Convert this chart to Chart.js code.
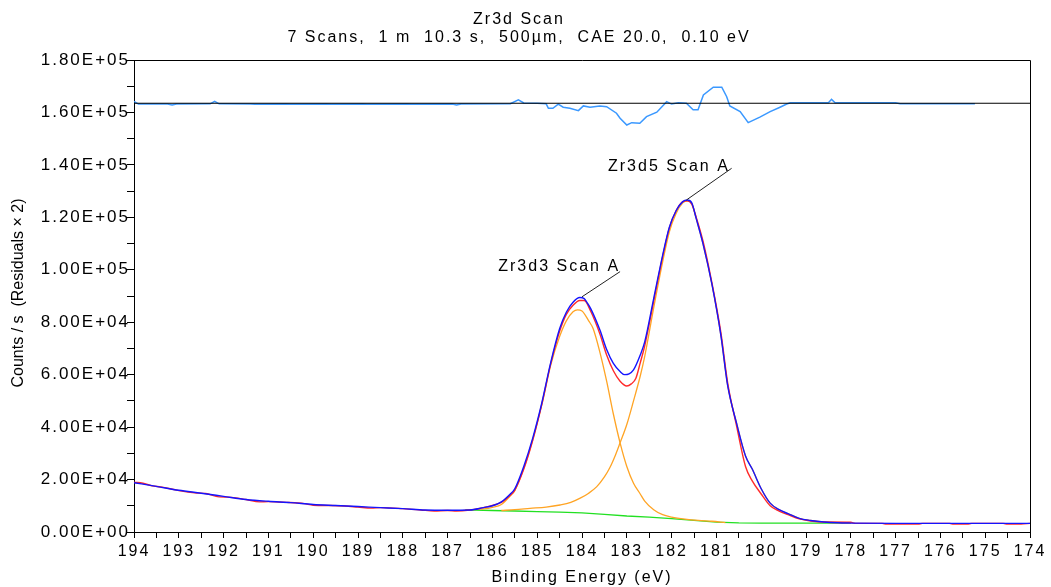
<!DOCTYPE html>
<html><head><meta charset="utf-8">
<script src="https://cdn.jsdelivr.net/npm/chart.js@4.4.0/dist/chart.umd.min.js"></script>
<style>html,body{margin:0;padding:0;background:#fff;}#wrap{width:1051px;height:587px;}</style>
</head><body><div id="wrap"><canvas id="c" width="1051" height="587"></canvas></div>
<script>
const titleLines = ['Zr3d Scan', '7 Scans,  1 m  10.3 s,  500\u00b5m,  CAE 20.0,  0.10 eV'];
const xTitle = 'Binding Energy (eV)';
const yTitle = 'Counts / s  (Residuals \u00d7 2)';

// Envelope (fit), blue
const envE = [194,193.5,193,192.5,192,191.5,191,190.5,190,189.5,189,188.5,188,187.5,187,186.5,186.2,186,185.8,185.6,185.5,185.3,185.1,184.9,184.7,184.5,184.35,184.2,184.05,183.95,183.88,183.8,183.6,183.45,183.3,183.15,183.05,182.95,182.85,182.7,182.6,182.4,182.2,182.05,181.9,181.75,181.65,181.55,181.45,181.3,181.1,180.9,180.75,180.55,180.35,180.2,180,179.8,179.6,179.4,179.15,178.9,178.6,178.3,178,177,176,175,174];
const envY = [18800,17400,15900,14800,13600,12400,11700,11200,10500,10100,9700,9300,8900,8400,8300,8400,9300,10000,11500,14500,16500,25000,35800,49000,64500,77500,83800,87600,89400,89000,87300,85000,77000,69600,64300,61200,60000,60300,61800,67500,72500,89000,105500,116200,122500,126000,126600,125500,119500,110000,94500,75000,56000,41500,29000,24000,16500,11000,8500,7000,5200,4400,3800,3500,3400,3300,3300,3300,3300];

// Raw data, red
const rawE = [194,193.8,193.6,193.4,193,192.6,192.4,192.1,191.9,191.5,191.2,191,190.6,190.2,190,189.6,189.3,189,188.7,188.5,188,187.6,187.3,187,186.8,186.5,186.2,186,185.8,185.6,185.5,185.3,185.1,184.9,184.7,184.5,184.35,184.2,184.05,183.95,183.8,183.6,183.45,183.3,183.15,183,182.9,182.8,182.7,182.6,182.4,182.2,182.05,181.9,181.75,181.65,181.55,181.45,181.3,181.1,180.9,180.75,180.55,180.35,180.2,180,179.8,179.6,179.4,179.15,178.9,178.6,178.5,178,177.9,177.3,177.2,176.5,176.4,175.8,175.7,175.4,175.3,174.6,174.5,174.2,174];
const rawY = [19000,18600,17600,17200,15800,14900,14700,13400,13300,12400,11500,11600,11300,10800,10200,10100,9900,9500,9100,9300,8900,8400,8000,8200,8000,8400,9300,10100,11300,14000,16000,24000,35000,48500,64000,76500,83000,86500,88300,88300,84000,75500,67500,61500,57500,55700,56500,58500,64500,71000,88000,105000,116000,122500,126000,126300,125000,120000,111000,95000,76000,57000,40500,25000,19500,14500,10000,8000,6600,5000,4200,3800,3800,3700,3300,3300,3000,3000,3300,3300,3000,3000,3300,3300,3000,3000,3300];

// Component Zr3d3, orange
const c1E = [186.6,186.2,186,185.8,185.6,185.5,185.3,185.1,184.9,184.7,184.5,184.35,184.2,184.1,184,183.85,183.75,183.6,183.45,183.3,183.15,183,182.85,182.7,182.6,182.4,182.2,182,181.7,181.4,181.1,180.8];
const c1Y = [8400,8800,9400,10500,13800,15800,24300,35200,48300,63600,74500,80500,84000,84700,84300,80500,77500,68500,57500,45000,34000,25000,18600,14500,11800,8500,6600,5700,4900,4400,4100,3600];

// Component Zr3d5, orange
const c2E = [185.8,185.5,185.16,184.8,184.49,184.25,184.04,183.85,183.67,183.5,183.38,183.25,183.15,183,182.85,182.7,182.6,182.4,182.2,182.05,181.9,181.75,181.65,181.55,181.45,181.3,181.1,180.9,180.75,180.55,180.35,180.2,180,179.8,179.6,179.4,179.15,178.9,178.6,178.3,178];
const c2Y = [8200,8500,9000,9500,10300,11300,12900,14800,17300,21000,24500,29500,34000,41000,50000,59500,67000,85500,103000,114500,121500,125500,126300,125300,119500,110000,94500,75000,56000,41500,29000,24000,16500,11000,8500,7000,5200,4400,3800,3500,3400];

// Background, green
const bgE = [186.6,186,185.5,185,184.5,184,183.5,183,182.5,182,181.5,181,180.5,180,179,178];
const bgY = [8400,8200,8000,7800,7600,7300,6700,6100,5700,5100,4400,3800,3500,3400,3400,3400];

// Residuals (x2, offset), light blue
const resE = [194,193.9,193.25,193.15,193.05,192.3,192.2,192.1,191.4,191.3,190.6,190.5,189.7,189.6,188.9,188.8,187.9,187.8,186.9,186.8,186.7,185.6,185.42,185.3,185,184.8,184.75,184.65,184.53,184.42,184.27,184.08,183.97,183.82,183.6,183.45,183.23,183.15,183,182.89,182.71,182.56,182.33,182.11,182,181.85,181.67,181.52,181.41,181.29,181.07,180.88,180.77,180.7,180.47,180.29,180.03,179.8,179.58,179.43,179.35,178.5,178.43,178.35,177,176.9,176,175.9,175.23];
const resY = [164200,163200,163200,162800,163200,163300,164200,163300,163200,163100,163200,163100,163200,163100,163200,163100,163200,163100,163200,162800,163200,163300,164800,163600,163500,163300,161600,161600,163200,162000,161600,160700,162500,162000,162500,162200,159700,157800,155200,156100,155900,158400,160100,164100,163200,163700,163500,161000,161000,166700,169600,169600,166000,162500,160300,156100,158200,160300,162000,163200,163700,163700,165000,163700,163700,163300,163300,163300,163300];

// Residual zero line
const baseE = [194,174];
const baseY = [163500,163500];

// Peak labels and leader lines
const labelTexts = ['Zr3d3 Scan A', 'Zr3d5 Scan A'];
const labelE = [184.51, 182.06];
const labelY = [101200, 139300];
const lead1E = [184.0, 183.15], lead1Y = [89700, 99300];
const lead2E = [181.67, 180.66], lead2Y = [126600, 138700];

const FONT = '"Liberation Sans", Arial, sans-serif';

function pts(xs, ys){ return xs.map((x,i)=>({x:x, y:ys[i]})); }
function sci(v){
  if (v === 0) return '0.00E+00';
  const e = Math.floor(Math.log10(v) + 1e-9);
  const m = v / Math.pow(10, e);
  return m.toFixed(2) + 'E+' + String(e).padStart(2, '0');
}
function ln(data, color, width, smooth){
  const d = {data:data, borderColor:color, backgroundColor:color, borderWidth:width, pointRadius:0, showLine:true, fill:false, tension:0};
  if (smooth) d.cubicInterpolationMode = 'monotone';
  return d;
}

const deco = {
  id: 'deco',
  beforeDraw(chart){ chart.ctx.letterSpacing = '2px'; },
  afterDraw(chart){
    const ctx = chart.ctx, a = chart.chartArea, x = chart.scales.x, y = chart.scales.y;
    ctx.save();
    ctx.strokeStyle = '#000'; ctx.lineWidth = 1;
    ctx.beginPath();
    ctx.moveTo(a.left, Math.round(a.top) + 0.5);
    ctx.lineTo(Math.round(a.right) + 0.5, Math.round(a.top) + 0.5);
    ctx.lineTo(Math.round(a.right) + 0.5, a.bottom);
    ctx.stroke();
    ctx.font = '16px ' + FONT; ctx.fillStyle = '#000';
    ctx.textAlign = 'center'; ctx.textBaseline = 'middle';
    labelTexts.forEach((t,i)=>ctx.fillText(t, x.getPixelForValue(labelE[i]), y.getPixelForValue(labelY[i])));
    ctx.letterSpacing = '0px';
    ctx.translate(19, (a.top + a.bottom)/2 - 3);
    ctx.rotate(-Math.PI/2);
    ctx.fillText(yTitle, 0, 0);
    ctx.restore();
    ctx.letterSpacing = '0px';
  }
};

new Chart(document.getElementById('c').getContext('2d'), {
  type: 'scatter',
  data: { datasets: [
    ln(pts(lead1E, lead1Y), '#222', 1),
    ln(pts(lead2E, lead2Y), '#222', 1),
    ln(pts(envE, envY), '#1414ff', 1.4, true),
    ln(pts(rawE, rawY), '#ff2a2a', 1.4, true),
    ln(pts(c1E, c1Y), '#ffa424', 1.3, true),
    ln(pts(c2E, c2Y), '#ffa424', 1.3, true),
    ln(pts(bgE, bgY), '#22e022', 1.3),
    ln(pts(baseE, baseY), '#000', 1.2),
    ln(pts(resE, resY), '#3a98ff', 1.5)
  ]},
  options: {
    responsive: false, animation: false, devicePixelRatio: 1,
    layout: { padding: { left: 8, right: 21, top: 0, bottom: 0 } },
    plugins: {
      legend: { display: false }, tooltip: { enabled: false },
      title: { display: true, text: titleLines, color: '#000',
        font: { family: FONT, size: 16, weight: 'normal', lineHeight: 1.125 },
        padding: { top: 11, bottom: 13 } }
    },
    scales: {
      x: { type: 'linear', reverse: true, min: 174, max: 194,
        afterFit(s){ s.height = 55; },
        ticks: { stepSize: 0.5, autoSkip: false, maxRotation: 0, minRotation: 0, color: '#000',
          font: { family: FONT, size: 16 }, padding: 4,
          callback: v => Number.isInteger(v) ? String(v) : '' },
        grid: { display: true, drawOnChartArea: false, drawTicks: true, tickLength: 6, color: '#000', lineWidth: 1 },
        border: { display: true, color: '#000', width: 1 },
        title: { display: true, text: xTitle, color: '#000', font: { family: FONT, size: 16 }, padding: { top: 0, bottom: 0 } }
      },
      y: { type: 'linear', min: 0, max: 180000,
        afterFit(s){ s.width = 126; },
        ticks: { stepSize: 10000, autoSkip: false, color: '#000', font: { family: FONT, size: 17 }, padding: -3,
          callback: v => (v % 20000 === 0) ? sci(v) : '' },
        grid: { display: true, drawOnChartArea: false, drawTicks: true, tickLength: 7, color: '#000', lineWidth: 1 },
        border: { display: true, color: '#000', width: 1 }
      }
    }
  },
  plugins: [deco]
});
</script>
</body></html>
